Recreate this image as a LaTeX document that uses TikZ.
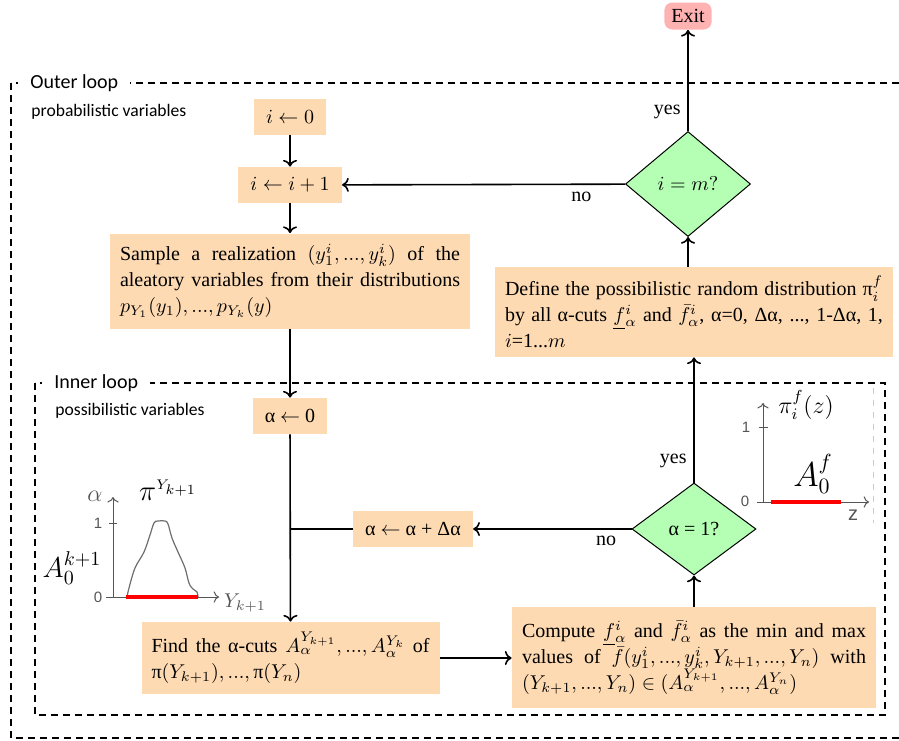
\documentclass[tikz,border=0pt]{standalone}
\usepackage[no-math]{fontspec}
\setmainfont{Liberation Serif}
\setsansfont{Carlito}
\newfontfamily\plotfont{Liberation Sans}
\usepackage{amsmath}
\usepackage{amssymb}
\usetikzlibrary{
  positioning,
  arrows.meta,
  shapes.geometric,
  calc
}
\definecolor{stepbg}{RGB}{253,218,178}
\definecolor{decisionbg}{RGB}{180,255,180}
\definecolor{exitbg}{RGB}{255,178,178}
\definecolor{axiscolor}{RGB}{85,85,85}
\definecolor{curvecolor}{RGB}{110,110,110}
\definecolor{cutred}{RGB}{255,0,0}
\newcommand{\lowf}{\smash[b]{\underline{f}}}
\tikzset{
  stepbox/.style={
    fill=stepbg, inner xsep=6pt, inner ysep=0pt,
    minimum height=18pt, font=\fontsize{10}{13}\selectfont
  },
  textbox/.style={
    fill=stepbg, inner xsep=5pt, inner ysep=3pt,
    align=justify, font=\fontsize{10}{13}\selectfont
  },
  decision/.style={
    diamond, draw=black, line width=0.5pt, fill=decisionbg,
    inner sep=1pt, font=\fontsize{10}{12}\selectfont
  },
  exitbox/.style={
    fill=exitbg, rounded corners=4pt, inner xsep=3.5pt,
    minimum height=13.5pt, font=\fontsize{10}{12}\selectfont
  },
  flow/.style={->, line width=0.8pt},
  flowline/.style={line width=0.8pt},
  loopframe/.style={
    line width=0.6pt, dash pattern=on 3.5pt off 2.5pt
  },
  looptitle/.style={
    fill=white, anchor=west, inner xsep=6pt, inner ysep=1pt,
    font=\sffamily\fontsize{10}{12}\selectfont
  },
  loopsub/.style={
    anchor=west, inner sep=0pt,
    font=\sffamily\fontsize{8.8}{11}\selectfont
  },
  plotaxis/.style={draw=axiscolor, line width=0.5pt},
  plotlabel/.style={
    text=axiscolor, inner sep=0pt, font=\plotfont\fontsize{7.5}{9}\selectfont
  },
  curveline/.style={draw=curvecolor, line width=0.6pt},
  cutline/.style={draw=cutred, line width=1.6pt}
}

\begin{document}
\begin{tikzpicture}[x=0.5pt, y=-0.5pt, font=\fontsize{10}{12}\selectfont]
  \useasboundingbox (0,0) rectangle (899,740);

  % loop frames
  \draw[loopframe] (11,83) rectangle (910,738);
  \draw[loopframe] (35,383) rectangle (885,715);
  \node[looptitle] (outertitle) at (18,83) {Outer loop};
  \node[loopsub] (outersub) at (31,112) {probabilistic variables};
  \node[looptitle] (innertitle) at (42,383) {Inner loop};
  \node[loopsub] (innersub) at (55,411) {possibilistic variables};

  % left column
  \node[stepbox] (izero) at (290,117) {$i \leftarrow 0$};
  \node[stepbox] (inext) at (290,185) {$i \leftarrow i + 1$};
  \node[textbox, text width=170pt, minimum height=47.5pt] (sample) at (290,281) {
    Sample a realization $(y_1^i, ..., y_k^i)$ of the aleatory variables from their distributions $p_{Y_1}(y_1), ..., p_{Y_k}(y)$
  };
  \node[stepbox] (azero) at (290,416) {α $\leftarrow$ 0};
  \node[stepbox] (astep) at (413,529) {α $\leftarrow$ α + Δα};
  \node[textbox, text width=139pt, minimum height=36pt] (findcuts) at (290.5,658) {
    Find the α-cuts $A_\alpha^{Y_{k+1}}, ..., A_\alpha^{Y_k}$ of $\text{π}(Y_{k+1}), ..., \text{π}(Y_n)$
  };

  % right column
  \node[textbox, text width=172pt, minimum height=50.5pt] (compute) at (694,657.5) {
    Compute $\lowf_\alpha^i$ and $\bar{f}_\alpha^i$ as the min and max values of $\bar{f}(y_1^i, ..., y_k^i, Y_{k+1}, ..., Y_n)$ with $(Y_{k+1}, ..., Y_n) \in (A_\alpha^{Y_{k+1}}, ..., A_\alpha^{Y_n})$
  };
  \node[decision, minimum width=62pt, minimum height=46pt] (alphaone) at (694,529) {α = 1?};
  \node[textbox, text width=189pt, minimum height=45pt] (define) at (694,312) {
    Define the possibilistic random distribution π$_i^f$ by all α-cuts $\lowf_\alpha^i$ and $\bar{f}_\alpha^i$, α=0, Δα, ..., 1-Δα, 1, $i$=1...$m$
  };
  \node[decision, minimum width=62.5pt, minimum height=52.5pt] (ism) at (688,184) {$i = m?$};
  \node[exitbox] (exit) at (688,16) {Exit};

  % connectors
  \draw[flow] (izero) -- (inext);
  \draw[flow] (inext) -- (sample);
  \draw[flow] (sample) -- (azero);
  \draw[flow] (azero) -- (findcuts);
  \draw[flowline] (astep.west) -- (astep.west -| azero);
  \draw[flow] (findcuts.east) -- (findcuts.east -| compute.west);
  \draw[flow] (compute) -- (alphaone);
  \draw[flow] (alphaone) -- node[pos=0.16, below] (noinner) {no} (astep);
  \draw[flow] (alphaone) -- node[pos=0.17, left] (yesinner) {yes} (define);
  \draw[flow] (define.north -| ism) -- (ism);
  \draw[flow] (ism) -- node[pos=0.155, below] (noouter) {no} (inext);
  \draw[flow] (ism) -- node[pos=0.19, left] (yesouter) {yes} (exit);

  % possibility of Y_{k+1}
  \draw[plotaxis, ->] (106,597) -- (219,597);
  \draw[plotaxis, ->] (113,597) -- (113,497);
  \draw[plotaxis] (109,523) -- (117,523);
  \node[plotlabel] (ltickone) at (98,523) {1};
  \node[plotlabel] (ltickzero) at (98,597) {0};
  \node[text=axiscolor, inner sep=0pt, font=\fontsize{13}{15}\selectfont] (lalpha) at (95,496) {$\alpha$};
  \draw[curveline] plot[smooth, tension=0.6] coordinates {
    (127,597) (129,588) (135,568) (144,552) (150,535) (154,523) (158,521)
    (165,521) (168,524) (172,538) (178,552) (185,568) (189,583) (193,589)
    (197,592) (198,597)};
  \draw[cutline] (126,597) -- (198,597);
  \node[inner sep=0pt, font=\fontsize{14}{16}\selectfont] (lcut) at (72,568) {$A_0^{k+1}$};
  \node[inner sep=0pt, font=\fontsize{15}{17}\selectfont] (lpi) at (168,490) {$\pi^{\scriptscriptstyle Y_{k+1}}$};
  \node[text=axiscolor, inner sep=0pt] (lyaxis) at (245,603) {$Y_{k+1}$};

  % possibility of f
  \draw[black!20, line width=0.4pt, dashed] (873,388) -- (873,523);
  \draw[plotaxis, ->] (757,502) -- (869,502);
  \draw[plotaxis, ->] (763,502) -- (763,403);
  \draw[plotaxis] (759,427) -- (768,427);
  \node[plotlabel] (rtickone) at (746,427) {1};
  \node[plotlabel] (rtickzero) at (745,501) {0};
  \node[plotlabel, font=\plotfont\fontsize{10}{12}\selectfont] (rzaxis) at (853,515) {z};
  \draw[cutline] (771,502) -- (841,502);
  \node[inner sep=0pt, font=\fontsize{12}{14}\selectfont] (rpi) at (806,405) {$\pi_i^f(z)$};
  \node[inner sep=0pt, font=\fontsize{16}{18}\selectfont] (rcut) at (813,474) {$A_0^f$};
\end{tikzpicture}
\end{document}
